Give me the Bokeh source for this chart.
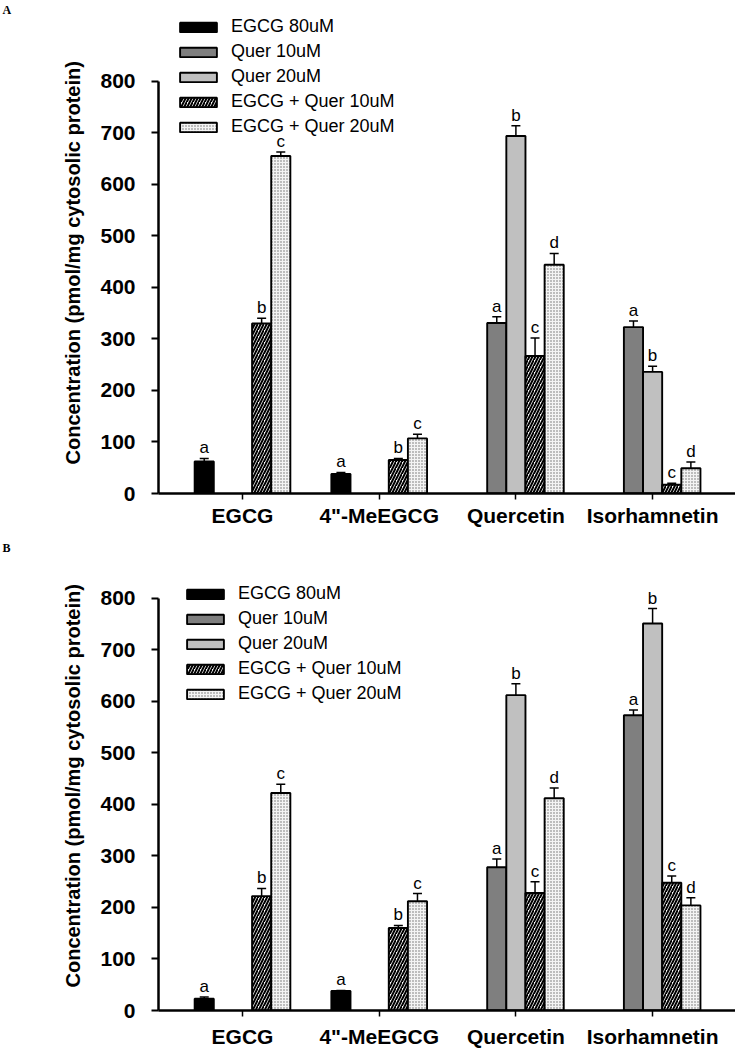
import pandas as pd
from bokeh.plotting import figure
from bokeh.models import (Range1d, FixedTicker, Legend, LegendItem, ColumnDataSource,
                          Whisker, TeeHead, Title)
from bokeh.layouts import column
from bokeh.embed import file_html
from bokeh.resources import INLINE
from bokeh.core.properties import value

# ---------------- data ----------------
categories = ["EGCG", '4"-MeEGCG', "Quercetin", "Isorhamnetin"]
series = ["EGCG 80uM", "Quer 10uM", "Quer 20uM", "EGCG + Quer 10uM", "EGCG + Quer 20uM"]
y_ticks = [0, 100, 200, 300, 400, 500, 600, 700, 800]
y_label = "Concentration (pmol/mg cytosolic protein)"

# Panel A
egcg80_A = [62, 38, None, None]
egcg80_A_err = [6, 3, None, None]
quer10_A = [None, None, 331, 323]
quer10_A_err = [None, None, 12, 12]
quer20_A = [None, None, 694, 236]
quer20_A_err = [None, None, 20, 11]
combo10_A = [330, 65, 267, 17]
combo10_A_err = [10, 3, 35, 3]
combo20_A = [655, 107, 444, 49]
combo20_A_err = [8, 8, 22, 12]

# Panel B
egcg80_B = [23, 38, None, None]
egcg80_B_err = [3, 1, None, None]
quer10_B = [None, None, 278, 573]
quer10_B_err = [None, None, 16, 10]
quer20_B = [None, None, 612, 751]
quer20_B_err = [None, None, 22, 29]
combo10_B = [222, 160, 228, 248]
combo10_B_err = [15, 5, 22, 13]
combo20_B = [422, 212, 412, 204]
combo20_B_err = [17, 15, 20, 15]

# significance letters (same in both panels)
egcg80_letters = ["a", "a", None, None]
quer10_letters = [None, None, "a", "a"]
quer20_letters = [None, None, "b", "b"]
combo10_letters = ["b", "b", "c", "c"]
combo20_letters = ["c", "c", "d", "d"]

letters = [egcg80_letters, quer10_letters, quer20_letters, combo10_letters, combo20_letters]
data_A = [egcg80_A, quer10_A, quer20_A, combo10_A, combo20_A]
err_A = [egcg80_A_err, quer10_A_err, quer20_A_err, combo10_A_err, combo20_A_err]
data_B = [egcg80_B, quer10_B, quer20_B, combo10_B, combo20_B]
err_B = [egcg80_B_err, quer10_B_err, quer20_B_err, combo10_B_err, combo20_B_err]

# ---------------- styles ----------------
BAR_W = 0.14
FONT = "Liberation Sans"
styles = [
    dict(fill_color="#000000"),
    dict(fill_color="#7f7f7f"),
    dict(fill_color="#c0c0c0"),
    dict(fill_color="#ffffff", hatch_pattern="/", hatch_color="#000000", hatch_scale=6, hatch_weight=2),
    dict(fill_color="#f4f4f4", hatch_pattern=".", hatch_color="#6a6a6a", hatch_scale=3, hatch_weight=1.2),
]

WIDTH = 735
LEFT = 158


def make_panel(tag, data, errs, height, border_top, border_bottom, zero_px, ymax_px,
               legend_xy, xlabel_standoff, ylabel_offset):
    frame_h = height - border_top - border_bottom
    px_per_unit = (zero_px - ymax_px) / 800.0
    y_top = frame_h / px_per_unit
    unit = 136.7
    x_start = (LEFT - 242) / unit
    x_end = x_start + (WIDTH - LEFT) / unit

    p = figure(width=WIDTH, height=height, output_backend="svg", toolbar_location=None,
               x_range=Range1d(x_start, x_end), y_range=Range1d(0, y_top),
               min_border_left=LEFT, min_border_right=0,
               min_border_top=border_top, min_border_bottom=border_bottom)
    p.outline_line_color = None
    p.xgrid.visible = False
    p.ygrid.visible = False
    p.background_fill_color = "white"

    # panel tag ("A" / "B") at the far top-left
    p.title = Title(text=tag, align="left", offset=-156, vertical_align="bottom", standoff=0,
                    text_font="Liberation Serif", text_font_style="bold",
                    text_font_size="12px", text_color="black")

    items = []
    for k, (vals, ers, lets) in enumerate(zip(data, errs, letters)):
        rows = [(i, v, e, l) for i, (v, e, l) in enumerate(zip(vals, ers, lets)) if v is not None]
        df = pd.DataFrame(rows, columns=["g", "val", "err", "let"])
        df["x"] = df["g"] + (k - 2) * BAR_W
        df["top_err"] = df["val"] + df["err"]
        src = ColumnDataSource(df)
        r = p.vbar(x="x", top="val", bottom=0, width=BAR_W, source=src,
                   line_color="black", line_width=1.9, **styles[k])
        w = Whisker(base="x", lower="val", upper="top_err", source=src, dimension="height",
                    line_color="black", line_width=1.5, lower_head=None,
                    upper_head=TeeHead(size=9, line_color="black", line_width=1.5))
        p.add_layout(w)
        p.text(x="x", y="top_err", text="let", source=src, text_align="center",
               text_baseline="bottom", y_offset=-1, text_font=value(FONT),
               text_font_size="17px", text_color="black")
        items.append(LegendItem(label=series[k], renderers=[r]))

    leg = Legend(items=items, location=legend_xy, glyph_width=46, glyph_height=12,
                 label_height=25, spacing=0, padding=0, margin=0,
                 label_standoff=10,
                 label_text_font=FONT, label_text_font_size="18px", label_text_color="black",
                 border_line_color=None, background_fill_alpha=0)
    p.add_layout(leg, "center")

    yax = p.yaxis[0]
    yax.bounds = (0, 800)
    yax.ticker = FixedTicker(ticks=y_ticks)
    yax.minor_tick_line_color = None
    yax.major_tick_out = 7
    yax.major_tick_in = 0
    yax.major_tick_line_width = 2
    yax.axis_line_width = 2.5
    yax.major_label_text_font = FONT
    yax.major_label_text_font_style = "bold"
    yax.major_label_text_font_size = "21px"
    yax.major_label_text_color = "black"
    yax.major_label_standoff = 16

    # rotated y-axis title placed beside the axis, centred on the 0..800 span
    p.add_layout(Title(text=y_label, align="left", offset=ylabel_offset, vertical_align="middle",
                       standoff=26, text_font=FONT, text_font_style="bold",
                       text_font_size="20px", text_color="black"), "left")

    xax = p.xaxis[0]
    xax.ticker = FixedTicker(ticks=list(range(len(categories))))
    xax.major_label_overrides = {i: c for i, c in enumerate(categories)}
    xax.minor_tick_line_color = None
    xax.major_tick_out = 6
    xax.major_tick_in = 0
    xax.major_tick_line_width = 1.5
    xax.axis_line_width = 2.5
    xax.major_label_text_font = FONT
    xax.major_label_text_font_style = "bold"
    xax.major_label_text_font_size = "21px"
    xax.major_label_text_color = "black"
    xax.major_label_standoff = xlabel_standoff
    return p


# Panel A: figure page y 0..538; frame page 15..493; 800 at page 80
pA = make_panel("A", data_A, err_A, height=538, border_top=15, border_bottom=45,
                zero_px=493, ymax_px=80, legend_xy=(17, 354),
                xlabel_standoff=4, ylabel_offset=29)
# Panel B: figure page y 538..1050; frame page 553..1011; 800 at page 597
pB = make_panel("B", data_B, err_B, height=512, border_top=15, border_bottom=39,
                zero_px=1011, ymax_px=597, legend_xy=(24, 304),
                xlabel_standoff=8, ylabel_offset=23)

layout = column(pA, pB, spacing=0)
open("out.html", "w").write(file_html(layout, INLINE))
